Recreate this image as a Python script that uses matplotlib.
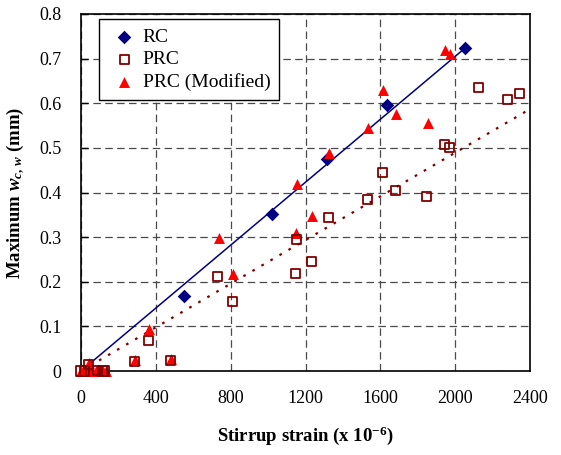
import matplotlib
matplotlib.use("Agg")
import matplotlib.pyplot as plt
import numpy as np

plt.rcParams['font.family'] = ['Liberation Serif', 'DejaVu Serif']
plt.rcParams['mathtext.fontset'] = 'custom'
plt.rcParams['mathtext.rm'] = 'Liberation Serif:bold'
plt.rcParams['mathtext.it'] = 'Liberation Serif:italic:bold'
plt.rcParams['mathtext.bf'] = 'Liberation Serif:bold'

# RC data
rc_x = [550, 1020, 1316, 1637, 2050]
rc_y = [0.1675, 0.351, 0.4746, 0.596, 0.7227]

# PRC data
prc_x = [0, 20, 40, 90, 115, 125, 286, 480, 361, 730, 808, 1147, 1152, 1234,
         1322, 1530, 1610, 1682, 1848, 1944, 1972, 2124, 2281, 2345]
prc_y = [0.0, 0.0, 0.015, 0.002, 0.0, 0.0, 0.022, 0.024, 0.069, 0.211, 0.155,
         0.219, 0.295, 0.246, 0.344, 0.385, 0.444, 0.404, 0.391, 0.507, 0.5007,
         0.635, 0.608, 0.621]

# PRC (Modified) data
mod_x = [0, 10, 20, 30, 45, 60, 80, 100, 120, 135, 286, 480, 363, 735, 813,
         1149, 1156, 1236, 1327, 1534, 1612, 1685, 1853, 1948, 1973]
mod_y = [0.0, 0.0, 0.0, 0.003, 0.019, 0.0, 0.0, 0.0, 0.0, 0.0, 0.025, 0.026,
         0.093, 0.297, 0.217, 0.309, 0.419, 0.348, 0.488, 0.5456, 0.630,
         0.5756, 0.5553, 0.720, 0.711]

# Trend lines: through origin
rc_trend_x = [0, 2050]
rc_trend_y = [0.0, 0.7227]
prc_trend_x = [0, 2400]
prc_trend_y = [0.0, 0.587]

x_ticks = [0, 400, 800, 1200, 1600, 2000, 2400]
y_ticks = [0, 0.1, 0.2, 0.3, 0.4, 0.5, 0.6, 0.7, 0.8]
y_tick_labels = ['0', '0.1', '0.2', '0.3', '0.4', '0.5', '0.6', '0.7', '0.8']

fig = plt.figure(figsize=(5.61, 4.55), dpi=100)
ax = fig.add_axes([81/561, 1-371/455, (530-81)/561, (371-14)/455])

ax.grid(True, linestyle=(0, (6, 3.5)), color='#4a4a4a', linewidth=0.9)
ax.set_axisbelow(True)

ax.plot(rc_trend_x, rc_trend_y, color='#000080', linewidth=1.1, zorder=3)
ax.plot(prc_trend_x, prc_trend_y, color='#800000', linewidth=1.6,
        linestyle=(0, (1.2, 3.5)), zorder=3)

ax.scatter(rc_x, rc_y, marker='D', s=48, color='#000080',
           linewidth=0, zorder=4, label='RC', clip_on=False)
ax.scatter(mod_x, mod_y, marker='^', s=62, color='#FF0000',
           linewidth=0, zorder=5, label='PRC (Modified)', clip_on=False)
ax.scatter(prc_x, prc_y, marker='s', s=42, facecolor='none',
           edgecolor='#800000', linewidth=1.3, zorder=6, label='PRC',
           clip_on=False)

ax.set_xlim(0, 2400)
ax.set_ylim(0, 0.8)
ax.set_xticks(x_ticks)
ax.set_xticklabels([str(v) for v in x_ticks])
ax.set_yticks(y_ticks)
ax.set_yticklabels(y_tick_labels)
ax.tick_params(axis='both', direction='in', labelsize=13, length=5, width=1,
               color='black')
ax.tick_params(axis='x', length=0, pad=14)
ax.tick_params(axis='y', pad=14)
for sp in ax.spines.values():
    sp.set_linewidth(1.2)
    sp.set_color('black')

ax.set_xlabel('Stirrup strain (x 10$^{-6}$)', fontsize=13.5,
              fontweight='bold', labelpad=12)
ax.set_ylabel('Maximum $w_{c,\\,w}$ (mm)', fontsize=13.5,
              fontweight='bold', labelpad=9)

h, l = ax.get_legend_handles_labels()
order = [l.index('RC'), l.index('PRC'), l.index('PRC (Modified)')]
leg = ax.legend([h[i] for i in order], [l[i] for i in order],
                loc='upper left', bbox_to_anchor=(0.04, 0.985),
                fontsize=14, frameon=True, fancybox=False, edgecolor='black',
                framealpha=1, borderpad=0.45, handletextpad=0.1,
                labelspacing=0.25, handlelength=1.7, borderaxespad=0)
leg.get_frame().set_linewidth(1.0)

fig.savefig('out.png', dpi=100)
